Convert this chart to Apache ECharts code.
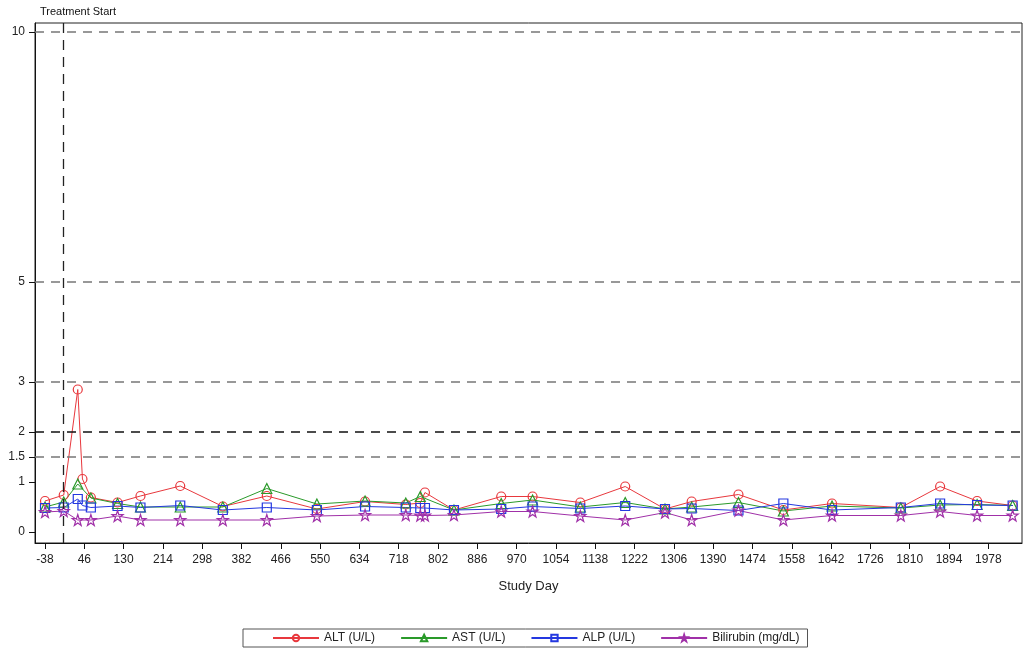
<!DOCTYPE html>
<html>
<head>
<meta charset="utf-8">
<script src="https://cdn.jsdelivr.net/npm/echarts@6/dist/echarts.min.js"></script>
<style>
  html, body { margin: 0; padding: 0; background: #fff; }
  #chart { width: 1024px; height: 650px; }
</style>
</head>
<body>
<div id="chart"></div>
<script>
// ---- data ----
const days = [-38, 2, 32, 42, 60, 117, 166, 251, 342, 436, 543, 646, 733, 764, 774, 836, 937, 1004, 1106, 1202, 1287, 1344, 1444, 1540, 1644, 1791, 1875, 1954, 2030];
const altValues = [0.62, 0.74, 2.85, 1.06, 0.69, 0.59, 0.72, 0.92, 0.51, 0.72, 0.46, 0.61, 0.55, 0.58, 0.79, 0.44, 0.71, 0.71, 0.59, 0.91, 0.46, 0.61, 0.75, 0.44, 0.57, 0.49, 0.91, 0.62, 0.53];
const astValues = [0.50, 0.60, 0.96, null, 0.68, 0.57, 0.50, 0.50, 0.50, 0.87, 0.56, 0.62, 0.58, 0.71, null, 0.44, 0.57, 0.64, 0.50, 0.59, 0.46, 0.50, 0.59, 0.42, 0.52, 0.48, 0.54, 0.55, 0.53];
const alpValues = [0.48, 0.49, 0.66, 0.53, 0.49, 0.52, 0.49, 0.53, 0.44, 0.49, 0.44, 0.51, 0.49, 0.48, 0.48, 0.44, 0.46, 0.51, 0.47, 0.52, 0.46, 0.47, 0.43, 0.57, 0.44, 0.49, 0.57, 0.54, 0.53];
const biliValues = [0.40, 0.42, 0.24, null, 0.24, 0.32, 0.24, 0.24, 0.24, 0.24, 0.32, 0.34, 0.34, 0.33, 0.33, 0.34, 0.41, 0.41, 0.32, 0.24, 0.39, 0.24, 0.43, 0.24, 0.33, 0.33, 0.41, 0.33, 0.33];
const xTicks = [-38, 46, 130, 214, 298, 382, 466, 550, 634, 718, 802, 886, 970, 1054, 1138, 1222, 1306, 1390, 1474, 1558, 1642, 1726, 1810, 1894, 1978];
const yTicks = [0, 1, 1.5, 2, 3, 5, 10];
const grayRefLines = [1.5, 3, 5, 10];
const blackRefLines = [2];
const treatmentStartDay = 1;
const seriesNames = ['ALT (U/L)', 'AST (U/L)', 'ALP (U/L)', 'Bilirubin (mg/dL)'];

const X_MIN = -59.4, X_MAX = 2050, Y_MIN = -0.22, Y_MAX = 10.18;

const starPath = 'path://M50,2 L61,36 L97,36 L68,57 L79,92 L50,71 L21,92 L32,57 L3,36 L39,36 Z';
const pair = (vals) => days.map((d, i) => [d, vals[i]]);

const chart = echarts.init(document.getElementById('chart'), null, { renderer: 'canvas' });
const font = 'Liberation Sans, Arial, sans-serif';

function mkSeries(name, vals, color, symbol, size) {
  return {
    name: name,
    type: 'line',
    data: pair(vals),
    connectNulls: true,
    symbol: symbol,
    symbolSize: size,
    showAllSymbol: true,
    lineStyle: { color: color, width: 1 },
    itemStyle: { color: 'rgba(255,255,255,0)', borderColor: color, borderWidth: 1.2 },
    emphasis: { disabled: true },
    z: 3
  };
}

const series = [
  mkSeries(seriesNames[0], altValues, '#e8383d', 'circle', 9),
  mkSeries(seriesNames[1], astValues, '#2a9a2a', 'triangle', 10),
  mkSeries(seriesNames[2], alpValues, '#2438e0', 'rect', 9),
  mkSeries(seriesNames[3], biliValues, '#a030a8', starPath, 11)
];

series.push({
  name: 'ref',
  type: 'line',
  data: [],
  silent: true,
  markLine: {
    silent: true,
    symbol: ['none', 'none'],
    label: { show: false },
    animation: false,
    data: [
      ...grayRefLines.map(v => ({ yAxis: v, lineStyle: { color: '#777', type: [9, 7], width: 1.5 } })),
      ...blackRefLines.map(v => ({ yAxis: v, lineStyle: { color: '#111', type: [9, 7], width: 1.5 } })),
      { xAxis: treatmentStartDay, lineStyle: { color: '#222', type: [10, 7], width: 1.3 } }
    ]
  },
  z: 2
});

chart.setOption({
  animation: false,
  backgroundColor: '#fff',
  grid: {
    left: 35, right: 2, top: 23, bottom: 107,
    show: true, borderColor: '#222', borderWidth: 1,
    containLabel: false
  },
  xAxis: {
    type: 'value',
    min: X_MIN, max: X_MAX,
    name: 'Study Day',
    nameLocation: 'middle',
    nameGap: 37,
    nameTextStyle: { fontFamily: font, fontSize: 13, color: '#222' },
    axisLine: { show: true, onZero: false, lineStyle: { color: '#111' } },
    axisTick: { show: true, inside: false, customValues: xTicks, length: 6, lineStyle: { color: '#111' } },
    axisLabel: { customValues: xTicks, formatter: v => String(v), fontFamily: font, fontSize: 12, color: '#222', margin: 11 },
    splitLine: { show: false }
  },
  yAxis: {
    type: 'value',
    min: Y_MIN, max: Y_MAX,
    axisLine: { show: true, onZero: false, lineStyle: { color: '#111' } },
    axisTick: { show: true, inside: false, customValues: yTicks, length: 6, lineStyle: { color: '#111' } },
    axisLabel: { customValues: yTicks, formatter: v => String(v), fontFamily: font, fontSize: 12, color: '#222', margin: 10 },
    splitLine: { show: false }
  },
  legend: {
    data: seriesNames,
    left: 243, top: 629,
    itemWidth: 46, itemHeight: 8,
    itemGap: 25,
    padding: [3, 8, 3, 29],
    borderColor: '#555', borderWidth: 1,
    textStyle: { fontFamily: font, fontSize: 12, color: '#222' },
    selectedMode: false
  },
  graphic: [{
    type: 'text', left: 40, top: 6,
    style: { text: 'Treatment Start', font: '11px ' + font, fill: '#111' }
  }],
  series: series
});
</script>
</body>
</html>
